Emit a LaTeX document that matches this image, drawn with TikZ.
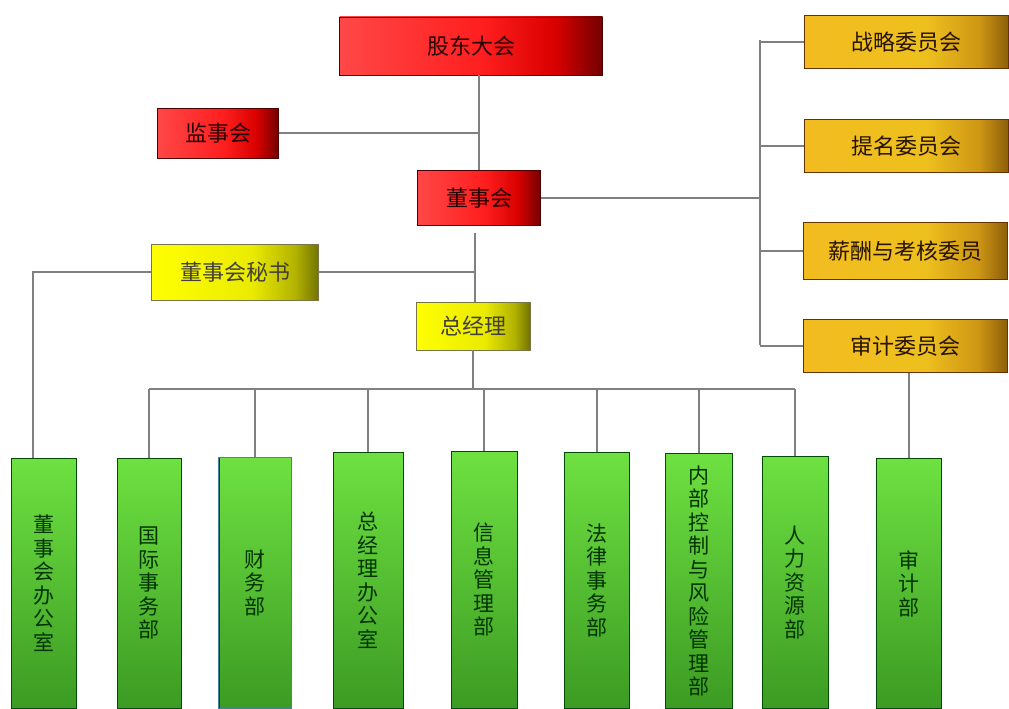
\documentclass[tikz,border=0pt]{standalone}
\usepackage{fontspec}
\setmainfont{Noto Sans CJK SC}
\usepackage{tikz}
\usetikzlibrary{calc}

\definecolor{conngray}{HTML}{808080}
\pgfdeclarehorizontalshading{redshade}{100bp}{color(0bp)=(red!72!white); color(25bp)=(red!72!white); color(52bp)=(red!88!white); color(66bp)=(red!85!black); color(75bp)=(red!45!black); color(100bp)=(red!45!black)}
\pgfdeclarehorizontalshading{yelshade}{100bp}{color(0bp)=(yellow); color(25bp)=(yellow); color(55bp)=(yellow!92!black); color(68bp)=(yellow!70!black); color(75bp)=(yellow!45!black); color(100bp)=(yellow!45!black)}
\pgfdeclarehorizontalshading{goldshade}{100bp}{color(0bp)=(rgb,255:red,242;green,188;blue,32); color(25bp)=(rgb,255:red,242;green,188;blue,32); color(55bp)=(rgb,255:red,238;green,192;blue,30); color(68bp)=(rgb,255:red,205;green,150;blue,20); color(75bp)=(rgb,255:red,140;green,95;blue,10); color(100bp)=(rgb,255:red,140;green,95;blue,10)}
\tikzset{
  box/.style={draw=#1, line width=0.9pt, inner sep=0pt, font=\fontsize{22}{26}\selectfont},
  redbox/.style={box=black!70!red, shading=redshade, text=black!85!red},
  yelbox/.style={box=black!60!yellow, shading=yelshade, text=black!85!yellow},
  goldbox/.style={box=black!60!orange, shading=goldshade, minimum width=204pt, minimum height=53pt, text=black!85!orange},
  greenbox/.style={box=black!70!green, top color={rgb,255:red,110;green,225;blue,65}, bottom color={rgb,255:red,60;green,155;blue,35}, text=black!80!green, align=center, anchor=north, font=\fontsize{21}{23.5}\selectfont},
  conn/.style={draw=conngray, line width=1.3pt}
}

\begin{document}
\begin{tikzpicture}[x=1pt, y=-1pt]
\useasboundingbox (0,0) rectangle (1009,709);

% top of the chart
\node[redbox, minimum width=263pt, minimum height=58pt] (gudong) at (471,46) {股东大会};
\node[redbox, minimum width=121pt, minimum height=50pt] (jianshi) at (218,133) {监事会};
\node[redbox, minimum width=123pt, minimum height=55pt] (dongshi) at (479,198) {董事会};
\node[yelbox, minimum width=167pt, minimum height=56pt] (mishu) at (235,272) {董事会秘书};
\node[yelbox, minimum width=114pt, minimum height=48pt] (zjl) at (473,326) {总经理};

% committees
\node[goldbox] (zhanlue) at (906,42) {战略委员会};
\node[goldbox] (timing) at (906,146) {提名委员会};
\node[goldbox, minimum height=57pt] (xinchou) at (905,251) {薪酬与考核委员};
\node[goldbox] (shenwei) at (905,346) {审计委员会};

% departments
\foreach \name/\cx/\top/\w/\txt in {
    dsbgs/44/458/65/{董\\事\\会\\办\\公\\室},
    gjsw/149/458/64/{国\\际\\事\\务\\部},
    cwb/255/457/72/{财\\务\\部},
    zjlbgs/368/452/70/{总\\经\\理\\办\\公\\室},
    xxgl/484/451/66/{信\\息\\管\\理\\部},
    flsw/597/452/65/{法\\律\\事\\务\\部},
    nbkz/699/453/67/{内\\部\\控\\制\\与\\风\\险\\管\\理\\部},
    rlzy/795/456/66/{人\\力\\资\\源\\部},
    sjb/909/458/65/{审\\计\\部}} {
    \node[greenbox, minimum width=\w pt, minimum height={(708-\top)*1pt}] (\name) at (\cx,\top) {\txt};
}
\draw[draw=cyan!60!black, line width=0.9pt] (cwb.north west) rectangle (cwb.south east);

\coordinate (rb) at (760,0);
\coordinate (gb) at (0,389);
\coordinate (d2) at (475,233);

% connectors
\draw[conn] (gudong.south -| dongshi.north) -- (dongshi.north);
\draw[conn] (jianshi.east) -- (jianshi.east -| dongshi.north);
\draw[conn] (dongshi.east) -- (dongshi.east -| rb);
\draw[conn] ($(zhanlue.west -| rb)+(0,-2)$) -- ($(shenwei.west -| rb)+(0,-1)$);
\foreach \n in {zhanlue, timing, xinchou, shenwei} {
    \draw[conn] (\n.west) -- (\n.west -| rb);
}
\draw[conn] (d2) -- (d2 |- zjl.north);
\draw[conn] (mishu.east) -- (mishu.east -| d2);
\draw[conn] (mishu.west) -| ([xshift=-11pt]dsbgs.north);
\draw[conn] (zjl.south) -- (zjl.south |- gb);
\draw[conn] (gjsw.north |- gb) -- (rlzy.north |- gb);
\foreach \n in {gjsw, cwb, zjlbgs, xxgl, flsw, nbkz, rlzy} {
    \draw[conn] (\n.north) -- (\n.north |- gb);
}
\draw[conn] (shenwei.south -| sjb.north) -- (sjb.north);
\end{tikzpicture}
\end{document}
